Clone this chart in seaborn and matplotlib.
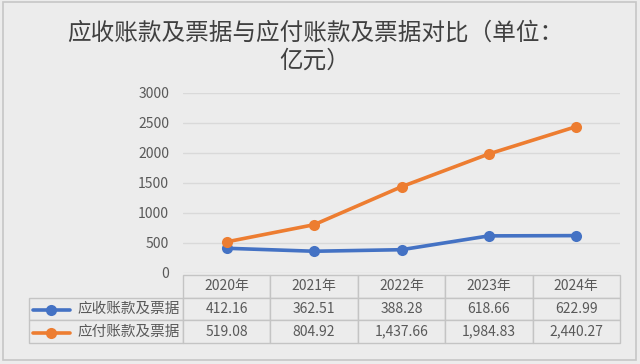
import pandas as pd
import seaborn as sns
import matplotlib.pyplot as plt
from matplotlib.patches import Rectangle
from matplotlib.lines import Line2D

# data
years = ["2020年", "2021年", "2022年", "2023年", "2024年"]
receivable = [412.16, 362.51, 388.28, 618.66, 622.99]
payable = [519.08, 804.92, 1437.66, 1984.83, 2440.27]
series_names = ["应收账款及票据", "应付账款及票据"]
colors = ["#4472C4", "#ED7D31"]

df = pd.DataFrame({
    "idx": list(range(len(years))) * 2,
    "value": receivable + payable,
    "series": [series_names[0]] * len(years) + [series_names[1]] * len(years),
})

sns.set_theme(style="white")
plt.rcParams["font.family"] = ["Noto Sans CJK SC", "DejaVu Sans"]

bg = "#ececec"
txt = "#595959"
fig = plt.figure(figsize=(6.4, 3.64), dpi=100, facecolor=bg)
fig.patches.append(Rectangle((0.004, 0.012), 0.99, 0.982, transform=fig.transFigure,
                             fill=False, edgecolor="#c6c6c6", linewidth=1.2))

W, H = 640, 364
ax = fig.add_axes([183 / W, 1 - 273 / H, (620 - 183) / W, 180 / H])
ax.set_facecolor(bg)

sns.lineplot(data=df, x="idx", y="value", hue="series", palette=colors,
             marker="o", markersize=8, markeredgewidth=0, linewidth=2.6,
             legend=False, ax=ax)

ax.set_xlim(-0.5, len(years) - 0.5)
ax.set_ylim(0, 3000)
ax.set_yticks(range(0, 3001, 500))
ax.set_xticks([])
ax.set_xlabel("")
ax.set_ylabel("")
ax.tick_params(axis="y", length=0, labelsize=10, labelcolor=txt, pad=10)
ax.yaxis.grid(True, color="#d9d9d9", linewidth=1)
ax.set_axisbelow(True)
for s in ax.spines.values():
    s.set_visible(False)

# data table under the plot
def fmt(v):
    return f"{v:,.2f}"

cell_text = [[""] + years,
             [series_names[0]] + [fmt(v) for v in receivable],
             [series_names[1]] + [fmt(v) for v in payable]]
lab_w = 154 / 591
col_w = 87.4 / 591
tb = ax.table(cellText=cell_text, cellLoc="center",
              colWidths=[lab_w] + [col_w] * len(years),
              bbox=[(29 - 183) / 437, (273 - 343) / 180, 591 / 437, 68 / 180])
tb.auto_set_font_size(False)
tb.set_fontsize(10)
for (r, c), cell in tb.get_celld().items():
    cell.set_edgecolor("#c4c4c4")
    cell.set_linewidth(1)
    cell.set_facecolor(bg)
    cell.get_text().set_color(txt)
    if c == 0:
        cell.get_text().set_ha("right")
        cell.get_text().set_fontsize(10.5)
        cell._loc = "right"
        cell.PAD = 0.02
tb[0, 0].visible_edges = ""

# legend keys inside the table
for i, col in enumerate(colors):
    y = 1 - (309.5 + i * 23) / H
    fig.add_artist(Line2D([33 / W, 70 / W], [y, y], color=col, linewidth=2.6,
                          transform=fig.transFigure))
    fig.add_artist(Line2D([51 / W], [y], color=col, marker="o", markersize=8,
                          markeredgewidth=0, transform=fig.transFigure))

fig.text(0.492, 1 - 47 / H, "应收账款及票据与应付账款及票据对比（单位：\n亿元）",
         ha="center", va="center", fontsize=17, color="#404040", linespacing=1.3)

fig.savefig("out.png", dpi=100, facecolor=bg)
